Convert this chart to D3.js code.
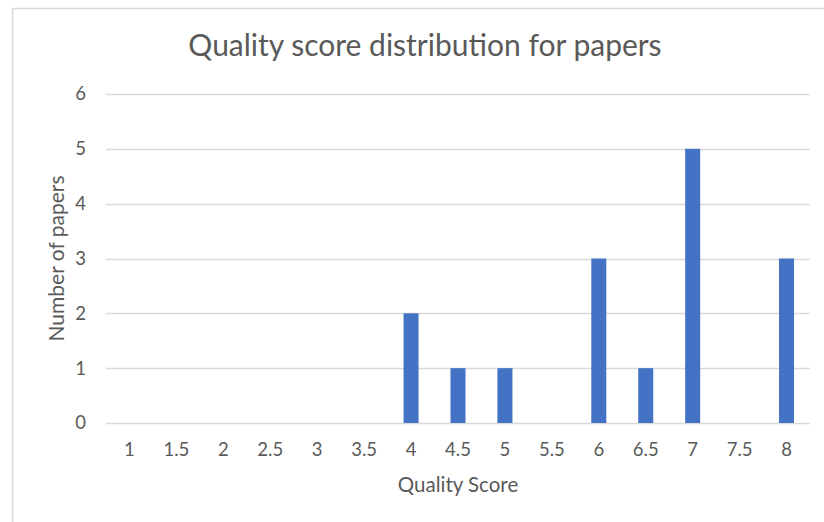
<!DOCTYPE html>
<html>
<head>
<meta charset="utf-8">
<script src="https://cdn.jsdelivr.net/npm/d3@7"></script>
<style>
    body { margin: 0; background: #fff; }
    text { font-family: Lato, "Open Sans", sans-serif; fill: #595959; }
</style>
</head>
<body>
<svg id="chart" width="824" height="522"></svg>
<script>
// data
var scores = ["1", "1.5", "2", "2.5", "3", "3.5", "4", "4.5", "5", "5.5", "6", "6.5", "7", "7.5", "8"];
var papers = [0, 0, 0, 0, 0, 0, 2, 1, 1, 0, 3, 1, 5, 0, 3];
var yTicks = [0, 1, 2, 3, 4, 5, 6];

var svg = d3.select("#chart");

var margin = {left: 106, right: 14, top: 94, bottom: 99},
    width = 824 - margin.left - margin.right,
    height = 522 - margin.top - margin.bottom;

// chart border
svg.append("path")
    .attr("d", "M12.5,522 V8.5 H824")
    .attr("fill", "none")
    .attr("stroke", "#d9d9d9")
    .attr("stroke-width", 1.5);

var g = svg.append("g")
    .attr("transform", "translate(" + margin.left + "," + margin.top + ")");

var x = d3.scaleBand()
    .domain(scores)
    .range([0, width])
    .paddingInner(0.68)
    .paddingOuter(0.34);

var y = d3.scaleLinear()
    .domain([0, 6])
    .range([height, 0]);

// gridlines
g.selectAll("line.grid")
    .data(yTicks)
    .enter().append("line")
    .attr("class", "grid")
    .attr("x1", 0)
    .attr("x2", width)
    .attr("y1", function(d) { return Math.round(y(d)) + 0.5; })
    .attr("y2", function(d) { return Math.round(y(d)) + 0.5; })
    .attr("stroke", "#d9d9d9")
    .attr("stroke-width", 1.5);

// y tick labels
g.selectAll("text.ytick")
    .data(yTicks)
    .enter().append("text")
    .attr("class", "ytick")
    .attr("x", -20)
    .attr("y", function(d) { return y(d); })
    .attr("dy", "0.35em")
    .attr("text-anchor", "end")
    .style("font-size", "18.5px")
    .text(function(d) { return d; });

// bars
g.selectAll("rect.bar")
    .data(scores)
    .enter().append("rect")
    .attr("class", "bar")
    .attr("x", function(d) { return x(d); })
    .attr("width", x.bandwidth())
    .attr("y", function(d, i) { return y(papers[i]); })
    .attr("height", function(d, i) { return height - y(papers[i]); })
    .attr("fill", "#4472c4");

// x tick labels
g.selectAll("text.xtick")
    .data(scores)
    .enter().append("text")
    .attr("class", "xtick")
    .attr("x", function(d) { return x(d) + x.bandwidth() / 2; })
    .attr("y", height + 33)
    .attr("text-anchor", "middle")
    .style("font-size", "18.5px")
    .text(function(d) { return d; });

// title
svg.append("text")
    .attr("x", 425)
    .attr("y", 56)
    .attr("text-anchor", "middle")
    .style("font-size", "30px")
    .text("Quality score distribution for papers");

// axis titles
svg.append("text")
    .attr("x", margin.left + width / 2)
    .attr("y", 492)
    .attr("text-anchor", "middle")
    .style("font-size", "20.5px")
    .text("Quality Score");

svg.append("text")
    .attr("transform", "translate(64," + (margin.top + height / 2) + ") rotate(-90)")
    .attr("text-anchor", "middle")
    .style("font-size", "21px")
    .text("Number of papers");
</script>
</body>
</html>
